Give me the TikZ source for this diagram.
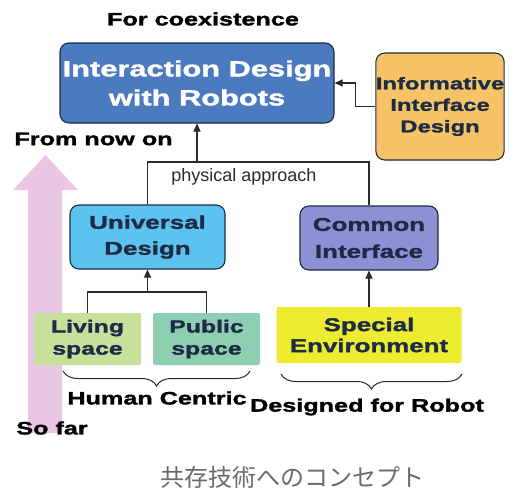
\documentclass[tikz,border=0pt]{standalone}
\usepackage{fontspec}
\setmainfont{Liberation Sans}
\newfontfamily\wbf{Liberation Sans}[UprightFont={* Bold},BoldFont={* Bold},FakeStretch=1.4,FakeBold=1.6]
\newfontfamily\jpfont{Noto Sans CJK JP}
\usetikzlibrary{arrows.meta,decorations.pathreplacing,calc}

\definecolor{idrblue}{HTML}{4B7BBE}
\definecolor{iidorange}{HTML}{F6C466}
\definecolor{udblue}{HTML}{5CC2EF}
\definecolor{cipurple}{HTML}{8E90D6}
\definecolor{lsgreen}{HTML}{C7E09B}
\definecolor{psgreen}{HTML}{8ECFB2}
\definecolor{seyellow}{HTML}{EEEC30}
\definecolor{pinkarrow}{HTML}{E9C6E4}
\definecolor{boxline}{HTML}{1E2B45}
\definecolor{linkgray}{HTML}{2A2A2A}
\definecolor{capgray}{HTML}{6B6B6B}

\begin{document}
\begin{tikzpicture}[x=1pt,y=-1pt,
  box/.style={draw=boxline,line width=1.1pt,rounded corners=9pt,inner sep=0pt,align=center,text=boxline},
  flat/.style={inner sep=0pt,rounded corners=2pt,align=center,text=boxline},
  big/.style={font=\wbf\fontsize{18}{22}\selectfont,text=black},
  arr/.style={-{Triangle[width=7pt,length=8pt]},line width=1.1pt,draw=linkgray},
  link/.style={line width=1.1pt,draw=linkgray},
  brc/.style={decorate,decoration={brace,mirror,amplitude=15pt},line width=1pt,draw=linkgray}]

\useasboundingbox (0,0) rectangle (511,493);
\fill[white] (0,0) rectangle (511,493);

% the big pink arrow on the left
\fill[pinkarrow] (28,433) -- (28,190) -- (13,190) -- (45.5,155) -- (78,190) -- (62,190) -- (62,433) -- cycle;

\node[big] (coex) at (203,19) {For coexistence};
\node[big] (nowon) at (93.5,139) {From now on};
\node[big] (sofar) at (52,428) {So far};

\node[box,fill=idrblue,minimum width=274,minimum height=80,text=white,
      font=\wbf\fontsize{22}{29}\selectfont] (IDR) at (197,83) {Interaction Design\\with Robots};
\node[box,fill=iidorange,minimum width=124,minimum height=107,
      font=\wbf\fontsize{17}{21.5}\selectfont] (IID) at (440,106.5) {Informative\\Interface\\Design};

\node[box,fill=udblue,minimum width=155,minimum height=64,
      font=\wbf\fontsize{18.5}{26}\selectfont] (UD) at (147.5,237) {Universal\\Design};
\node[box,fill=cipurple,minimum width=138,minimum height=64,
      font=\wbf\fontsize{18.5}{27}\selectfont] (CI) at (369,238) {Common\\Interface};

\node[flat,fill=lsgreen,minimum width=107,minimum height=52,
      font=\wbf\fontsize{17.7}{22}\selectfont] (LS) at (87.5,339) {Living\\space};
\node[flat,fill=psgreen,minimum width=107,minimum height=52,
      font=\wbf\fontsize{17.7}{22}\selectfont] (PS) at (206.5,339) {Public\\space};
\node[flat,fill=seyellow,minimum width=185,minimum height=56,
      font=\wbf\fontsize{18.5}{21}\selectfont] (SE) at (369,335) {Special\\Environment};

% physical approach
\coordinate (pa) at (0,162);
\draw[link] (UD.north) -- (UD.north |- pa) -- (CI.north |- pa) -- (CI.north);
\draw[arr] (IDR.south |- pa) -- (IDR.south);
\node[font=\fontsize{18}{20}\selectfont,text=linkgray] (PAlbl) at (244,177) {physical approach};

\draw[arr] (IID.west) -- ++(-20,0) |- (IDR.east);

\coordinate (lj) at (0,292);
\draw[link] (LS.north) -- (LS.north |- lj) -- (PS.north |- lj) -- (PS.north);
\draw[arr] (UD.south |- lj) -- (UD.south);

\draw[arr] (SE.north) -- (CI.south);

% braces
\draw[brc] (63,371) -- (250,371);
\draw[brc] (281,374) -- (462,374);
\node[big] (human) at (157,398) {Human Centric};
\node[big] (robot) at (367,407) {Designed for Robot};

\node[font=\jpfont\fontsize{24}{26}\selectfont,text=capgray] (caption) at (292.5,477) {共存技術へのコンセプト};
\end{tikzpicture}
\end{document}
